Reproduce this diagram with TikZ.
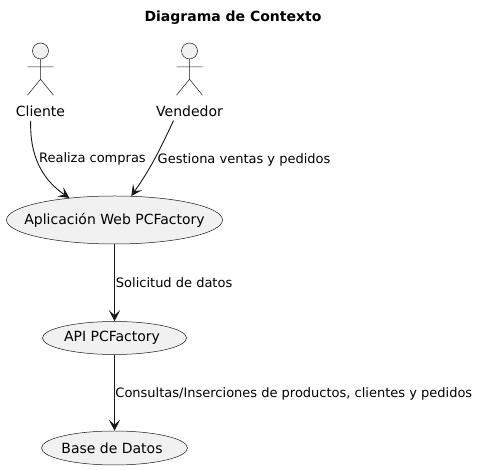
\documentclass[tikz,border=0pt]{standalone}
\usepackage{fontspec}
\setmainfont{DejaVu Sans}
\usetikzlibrary{arrows.meta,shapes.geometric}
\definecolor{umlfill}{HTML}{F1F1F1}
\definecolor{umlline}{HTML}{181818}

\begin{document}
\begin{tikzpicture}[
                    x=1pt,
                    y=1pt,
                    font=\fontsize{14}{16}\selectfont,
                    usecase/.style={ellipse, draw=umlline, fill=umlfill, line width=0.5pt, inner xsep=-30pt, inner ysep=0pt},
                    flow/.style={-{Stealth[length=11pt,width=11pt,inset=5pt]}, umlline, line width=0.9pt},
                    flowlabel/.style={inner sep=0pt, font=\fontsize{13}{15}\selectfont, black},
                    actorline/.style={umlline, line width=0.5pt}
                ]
                \useasboundingbox (0,0) rectangle (479,470);
                \node (Title) at (233,452) {\bfseries Diagrama de Contexto};

                \foreach \who/\px/\txt in {Cliente/40.5/Cliente, Vendedor/189.5/Vendedor} {
                    \node (\who Head) [circle, draw=umlline, fill=umlfill, line width=0.5pt, minimum size=16pt, inner sep=0pt] at (\px,419) {};
                    \node (\who) [inner sep=0pt] at (\px,359) {\txt};
                    \draw[actorline] (\who Head.south) -- ++(0,-20) coordinate (\who Hip)
                        -- ++(-13,-16) (\who Hip) -- ++(13,-16)
                        (\px-13,403) -- (\px+13,403);
                }

                \node (Web) [usecase, minimum width=216pt, minimum height=48pt] at (114.5,250) {Aplicación Web PCFactory};
                \node (Api) [usecase, minimum width=144pt, minimum height=33pt] at (114.5,132) {API PCFactory\kern5pt};
                \node (Db) [usecase, minimum width=146pt, minimum height=34pt] at (114.5,22) {Base de Datos\kern5pt};

                \path
                (Cliente.south west) ++(15,-4) coordinate (ClienteOut)
                (Vendedor.south) ++(-16,-4) coordinate (VendedorOut)
                ;
                \path[flow]
                (ClienteOut) edge[out=-92, in=146] node[flowlabel, anchor=west, pos=.43, xshift=2pt] {Realiza compras} (Web.154)
                (VendedorOut) edge[out=-115, in=55] node[flowlabel, anchor=west, pos=.5, xshift=3pt] {Gestiona ventas y pedidos} (Web.55)
                (Web) edge node[flowlabel, anchor=west, pos=.5, xshift=1pt] {Solicitud de datos} (Api)
                (Api) edge node[flowlabel, anchor=west, pos=.5, xshift=.5pt, yshift=-1.5pt] {Consultas/Inserciones de productos, clientes y pedidos} (Db)
                ;
            \end{tikzpicture}
\end{document}
